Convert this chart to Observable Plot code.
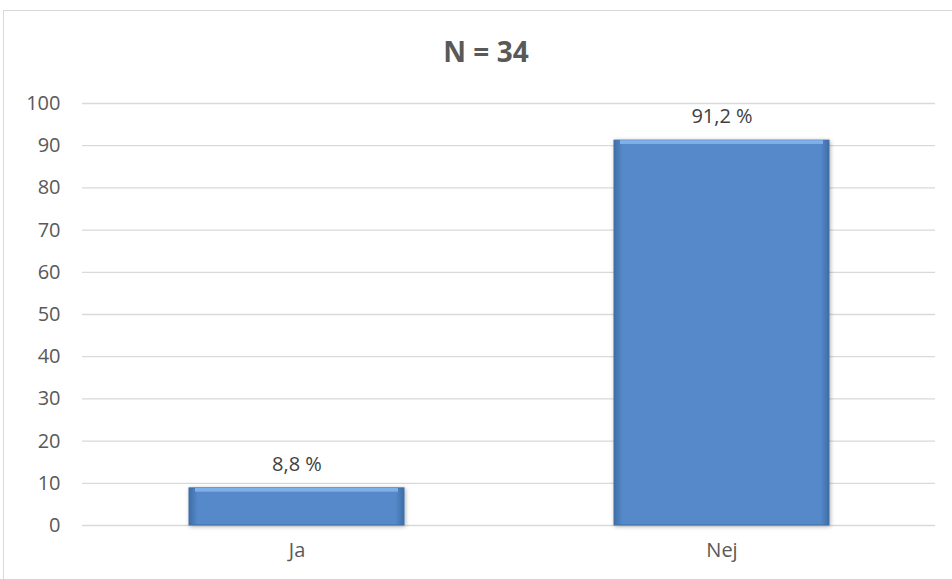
<!DOCTYPE html>
<html>
<head>
<meta charset="utf-8">
<script src="https://cdn.jsdelivr.net/npm/d3@7"></script>
<script src="https://cdn.jsdelivr.net/npm/@observablehq/plot@0.6"></script>
<style>
  html, body { margin: 0; padding: 0; background: #fff; }
  body { width: 952px; height: 579px; position: relative; overflow: hidden; font-family: "Open Sans", sans-serif; }
  #frame { position: absolute; left: 3px; top: 10px; width: 960px; height: 600px; border: 1.5px solid #d9d9d9; box-sizing: border-box; }
  #title { position: absolute; left: 0; top: 37px; width: 972px; line-height: 28px; text-align: center; font-size: 28px; font-weight: bold; color: #595959; }
  #chart { position: absolute; left: 0; top: 80px; }
</style>
</head>
<body>
<div id="frame"></div>
<div id="title">N = 34</div>
<div id="chart"></div>
<script>
const categories = ["Ja", "Nej"];
const values = [8.8, 91.2];
const yTicks = [0, 10, 20, 30, 40, 50, 60, 70, 80, 90, 100];

const data = categories.map((c, i) => ({category: c, value: values[i]}));

const defs = () => {
  const g = d3.create("svg:defs");
  const lg = g.append("linearGradient").attr("id", "barGrad").attr("x1", "0").attr("x2", "1").attr("y1", "0").attr("y2", "0");
  [["0%", "#3e6ea6"], ["4%", "#5589ca"], ["96%", "#5589ca"], ["100%", "#3e6ea6"]].forEach(([o, c]) => lg.append("stop").attr("offset", o).attr("stop-color", c));
  const f = g.append("filter").attr("id", "shadow").attr("x", "-10%").attr("y", "-10%").attr("width", "120%").attr("height", "120%");
  f.append("feDropShadow").attr("dx", 1).attr("dy", 1).attr("stdDeviation", 2).attr("flood-color", "#000").attr("flood-opacity", 0.3);
  return g.node();
};

const plot = Plot.plot({
  width: 952,
  height: 499,
  marginLeft: 82,
  marginRight: 17,
  marginTop: 23,
  marginBottom: 54,
  style: {fontFamily: "'Open Sans', sans-serif", fontSize: "20px", color: "#595959", background: "transparent"},
  x: {domain: categories, paddingInner: 0.495, paddingOuter: 0.25, label: null},
  y: {domain: [0, 100], label: null},
  marks: [
    defs,
    Plot.gridY(yTicks, {stroke: "#d9d9d9", strokeOpacity: 1, strokeWidth: 1.3}),
    Plot.axisY(yTicks, {tickSize: 0, tickPadding: 22, fontSize: 20, fill: "#595959", label: null}),
    Plot.axisX({tickSize: 0, tickPadding: 17, fontSize: 20, fill: "#595959", label: null}),
    Plot.barY(data, {x: "category", y: "value", fill: "url(#barGrad)", stroke: "#3f6ea5", strokeWidth: 1}),
    Plot.barY(data, {x: "category", y1: (d) => d.value, y2: (d) => d.value - 0.9, fill: "#7fb0e8", insetLeft: 6, insetRight: 6}),
    Plot.text(data, {x: "category", y: "value", text: (d) => d.value.toFixed(1).replace(".", ",") + " %", dy: -24, fill: "#404040", fontSize: 20})
  ]
});
d3.select(plot).selectAll("g[aria-label='bar']").filter((d, i) => i === 0).attr("filter", "url(#shadow)");
document.getElementById("chart").appendChild(plot);
</script>
</body>
</html>
